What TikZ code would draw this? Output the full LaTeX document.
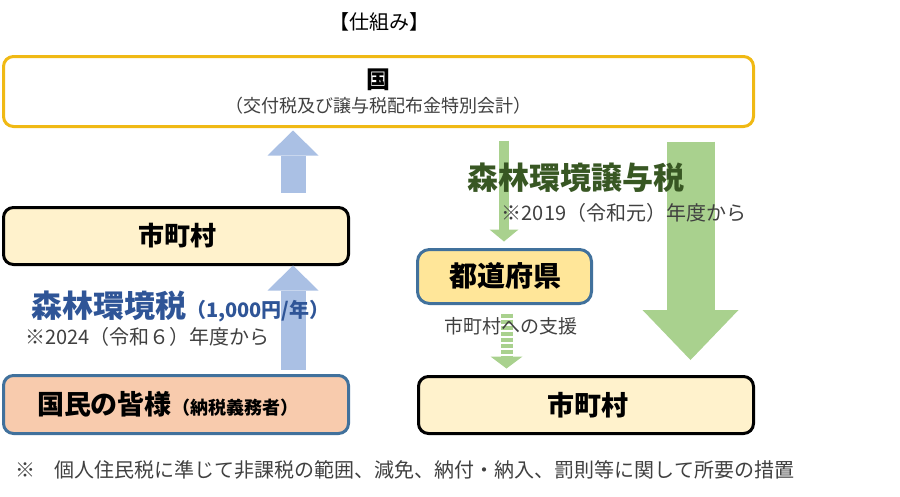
\documentclass[tikz,border=0pt]{standalone}
\usepackage{fontspec}
\setmainfont{Noto Sans CJK JP}
\usetikzlibrary{arrows.meta}
\definecolor{goldline}{RGB}{240,185,20}
\definecolor{muracol}{RGB}{255,242,204}
\definecolor{peoplecol}{RGB}{248,203,173}
\definecolor{prefcol}{RGB}{255,230,153}
\definecolor{blueline}{RGB}{65,113,156}
\definecolor{bluearrow}{RGB}{170,192,228}
\definecolor{greenarrow}{RGB}{169,209,142}
\definecolor{taxblue}{RGB}{47,85,151}
\definecolor{taxgreen}{RGB}{56,87,35}
\definecolor{graytext}{RGB}{64,64,64}
\newcommand{\fs}[1]{\fontsize{#1}{#1}\selectfont}
\tikzset{
  boxnode/.style={draw, line width=3pt, rounded corners=10pt, inner sep=0pt, outer sep=0pt},
  txt/.style={inner sep=0pt, outer sep=0pt},
  blockarrow/.style n args={4}{draw=#1, line width=#2, -{Triangle[width=#3, length=#4, line width=0pt, fill=#1]}},
}
\begin{document}
\begin{tikzpicture}[x=1pt,y=-1pt]
\useasboundingbox (0,0) rectangle (900,496);

% boxes
\node[boxnode, draw=goldline, fill=white, minimum width=750pt, minimum height=70pt] (kuni) at (378.5,91.5) {};
\node[boxnode, draw=black, fill=muracol, minimum width=345pt, minimum height=57pt] (lmura) at (176,236) {};
\node[boxnode, draw=blueline, fill=peoplecol, minimum width=345pt, minimum height=58pt] (people) at (176,404.5) {};
\node[boxnode, draw=blueline, fill=prefcol, minimum width=174pt, minimum height=54pt, rounded corners=12pt] (pref) at (504.5,276.5) {};
\node[boxnode, draw=black, fill=muracol, minimum width=335pt, minimum height=57pt] (rmura) at (586,405) {};

% helper coordinates
\coordinate (bluex) at (293,0);
\coordinate (thinx) at (504,0);
\coordinate (dashx) at (506.5,0);
\coordinate (bigx) at (690.5,0);
\coordinate (bigend) at (690.5,360);

% arrows
\draw[blockarrow={bluearrow}{25pt}{51pt}{25pt}] ([yshift=15pt]lmura.north -| bluex) -- ([yshift=-4pt]kuni.south -| bluex);
\draw[blockarrow={bluearrow}{25pt}{51pt}{25pt}] ([yshift=6pt]people.north -| bluex) -- ([yshift=-1pt]lmura.south -| bluex);
\draw[blockarrow={greenarrow}{10pt}{29pt}{12pt}] ([yshift=-14pt]kuni.south -| thinx) -- ([yshift=8pt]pref.north -| thinx);
\draw[blockarrow={greenarrow}{12pt}{32pt}{12pt}, dash pattern=on 4pt off 2pt] ([yshift=-10pt]pref.south -| dashx) -- ([yshift=8pt]rmura.north -| dashx);
\draw[blockarrow={greenarrow}{48pt}{96pt}{50pt}] ([yshift=-15pt]kuni.south -| bigx) -- (bigend);

% texts
\node[txt, font=\fs{20}] (title) at (379,22) {【仕組み】};
\node[txt, font=\fs{24}\bfseries] (kunit) at (378,80) {国};
\node[txt, font=\fs{18}, text=graytext] (kunisub) at (378,106) {（交付税及び譲与税配布金特別会計）};
\node[txt, font=\fs{26}\bfseries] (lmurat) at (177,236) {市町村};
\node[txt, anchor=base west, text=taxblue] (envtax) at (31,317) {{\fs{31}\bfseries 森林環境税}{\fs{20}\bfseries （1,000円/年）}};
\node[txt, anchor=west, font=\fs{20}, text=graytext] (envnote) at (25,337) {※2024（令和６）年度から};
\node[txt, anchor=base west, text=black] (peoplet) at (37,414) {{\fs{27}\bfseries 国民の皆様}{\fs{18}\bfseries （納税義務者）}};
\node[txt, font=\fs{28}\bfseries] (preft) at (505,276) {都道府県};
\node[txt, font=\fs{19}, text=graytext] (support) at (511,326) {市町村への支援};
\node[txt, font=\fs{27}\bfseries] (rmurat) at (588,405) {市町村};
\node[txt, font=\fs{31}\bfseries, text=taxgreen] (joyo) at (576,178) {森林環境譲与税};
\node[txt, font=\fs{20}, text=graytext] (joyonote) at (624,213) {※2019（令和元）年度から};
\node[txt, anchor=west, font=\fs{20}, text=graytext] (foot) at (15,470) {※　個人住民税に準じて非課税の範囲、減免、納付・納入、罰則等に関して所要の措置};
\end{tikzpicture}
\end{document}
